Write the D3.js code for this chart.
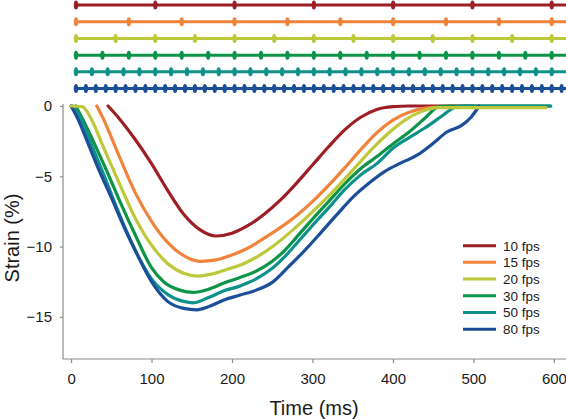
<!DOCTYPE html>
<html>
<head>
<meta charset="utf-8">
<script src="https://cdn.jsdelivr.net/npm/d3@7"></script>
<style>
  html, body { margin: 0; padding: 0; background: #fff; }
  svg { display: block; font-family: "Liberation Sans", Arial, Helvetica, sans-serif; }
</style>
</head>
<body>
<svg id="chart" width="566" height="420"></svg>
<script>
// ---- data ----
const seriesNames = ["10 fps", "15 fps", "20 fps", "30 fps", "50 fps", "80 fps"];
const frameRates = [10, 15, 20, 30, 50, 80];
const colors = ["#9c1f25", "#f0843c", "#bdc83b", "#0c9448", "#0f918b", "#1c4f9a"];

const s10 = [[46,0],[60,-0.9],[80,-2.4],[100,-4.1],[120,-6.0],[140,-7.7],[160,-8.8],[180,-9.25],[200,-9.05],[220,-8.5],[240,-7.7],[260,-6.7],[280,-5.5],[300,-4.2],[320,-2.9],[340,-1.7],[360,-0.8],[380,-0.25],[400,-0.05],[420,0],[500,0]];
const s15 = [[32,0],[40,-0.9],[60,-3.6],[80,-6.2],[100,-8.2],[120,-9.7],[140,-10.65],[160,-11.05],[180,-10.95],[200,-10.6],[220,-10.1],[240,-9.4],[260,-8.65],[280,-7.8],[300,-6.8],[320,-5.65],[340,-4.4],[360,-3.1],[380,-1.9],[400,-1.0],[420,-0.45],[440,-0.15],[460,-0.08],[590,-0.08]];
const s20 = [[0,0],[14,-0.05],[24,-0.8],[40,-2.9],[60,-5.5],[80,-8.0],[100,-9.9],[120,-11.2],[140,-11.9],[158,-12.1],[175,-11.95],[195,-11.6],[215,-11.2],[235,-10.6],[255,-9.8],[275,-8.85],[295,-7.8],[315,-6.7],[335,-5.5],[355,-4.25],[375,-3.0],[395,-1.9],[415,-1.0],[435,-0.4],[455,-0.12],[590,-0.12]];
const s30 = [[6,0],[15,-1.0],[30,-2.8],[45,-4.7],[60,-6.7],[80,-9.2],[100,-11.5],[115,-12.5],[135,-13.1],[152,-13.26],[170,-13.05],[190,-12.6],[210,-12.2],[230,-11.75],[250,-11.05],[265,-10.3],[280,-9.35],[300,-8.05],[320,-6.8],[340,-5.55],[360,-4.45],[380,-3.6],[400,-2.7],[420,-1.85],[440,-0.85],[457,-0.05],[470,0],[596,0]];
const s50 = [[2,0],[10,-0.7],[25,-2.7],[40,-4.8],[60,-7.7],[80,-10.3],[100,-12.3],[120,-13.4],[140,-13.9],[152,-14.0],[170,-13.65],[190,-13.15],[210,-12.8],[230,-12.3],[250,-11.55],[265,-10.75],[280,-9.8],[300,-8.5],[320,-7.25],[340,-5.95],[360,-4.9],[380,-4.1],[400,-3.0],[420,-2.25],[440,-1.55],[460,-0.75],[475,-0.15],[485,0],[596,0]];
const s80 = [[0,0],[10,-1.1],[20,-2.5],[35,-4.6],[50,-6.5],[65,-8.5],[80,-10.3],[100,-12.5],[120,-13.9],[140,-14.4],[156,-14.5],[172,-14.25],[190,-13.8],[210,-13.45],[230,-13.1],[250,-12.55],[270,-11.45],[290,-10.3],[310,-9.04],[330,-7.75],[350,-6.5],[370,-5.5],[390,-4.65],[410,-4.05],[430,-3.5],[450,-2.65],[467,-1.85],[485,-1.4],[497,-0.8],[507,0]];
const seriesData = [s10, s15, s20, s30, s50, s80];
const drawOrder = [0, 1, 3, 4, 5, 2];

const xTicks = [0, 100, 200, 300, 400, 500, 600];
const yTicks = [0, -5, -10, -15];

// ---- drawing ----
const svg = d3.select("#chart");
const axisColor = "#8c8c8c";

const x = d3.scaleLinear().domain([-10, 615]).range([63, 566]);
const y = d3.scaleLinear().domain([-18, 0]).range([359, 106]);

// frame strip
const xs = d3.scaleLinear().domain([0, 618]).range([76, 566]);
const stripY = d3.scaleBand().domain(seriesNames).range([-3.3, 96.9]);
const strip = svg.append("g");
frameRates.forEach((fps, i) => {
  const yy = stripY(seriesNames[i]) + stripY.bandwidth() / 2;
  strip.append("line")
    .attr("x1", xs(0)).attr("x2", xs(618))
    .attr("y1", yy).attr("y2", yy)
    .attr("stroke", colors[i]).attr("stroke-width", 3);
  const frames = d3.range(0, 618.01, 1000 / fps);
  strip.selectAll(null).data(frames).enter().append("ellipse")
    .attr("cx", d => xs(d)).attr("cy", yy)
    .attr("rx", 2.2).attr("ry", 4.5)
    .attr("fill", colors[i]);
});

// axes
const xAxis = d3.axisBottom(x).tickValues(xTicks).tickSize(4).tickSizeOuter(0).tickPadding(10);
const gx = svg.append("g").attr("transform", `translate(0,${y(-18)})`).call(xAxis);
gx.select(".domain").attr("stroke", axisColor).attr("stroke-width", 1.2).attr("d", `M${x(-10)},0H566`);
gx.selectAll(".tick line").attr("stroke", axisColor).attr("stroke-width", 1.2);
gx.selectAll(".tick text").attr("fill", "#1a1a1a").attr("font-size", 15)
  .attr("font-family", "'Liberation Sans', Arial, sans-serif");

const yAxis = d3.axisLeft(y).tickValues(yTicks).tickSize(3).tickSizeOuter(0).tickPadding(8);
const gy = svg.append("g").attr("transform", `translate(${x(-10)},0)`).call(yAxis);
gy.select(".domain").attr("stroke", axisColor).attr("stroke-width", 1.2).attr("d", `M0,${y(0) - 2}V${y(-18)}`);
gy.selectAll(".tick line").attr("stroke", axisColor).attr("stroke-width", 1.2);
gy.selectAll(".tick text").attr("fill", "#1a1a1a").attr("font-size", 15)
  .attr("font-family", "'Liberation Sans', Arial, sans-serif");

// curves
const line = d3.line().x(d => x(d[0])).y(d => y(d[1])).curve(d3.curveMonotoneX);
const gl = svg.append("g");
drawOrder.forEach(i => {
  gl.append("path")
    .attr("d", line(seriesData[i]))
    .attr("fill", "none")
    .attr("stroke", colors[i])
    .attr("stroke-width", 3.2)
    .attr("stroke-linejoin", "round")
    .attr("stroke-linecap", "round");
});

// legend
const legY = d3.scaleBand().domain(seriesNames).range([237.3, 337.5]);
const leg = svg.append("g");
seriesNames.forEach((name, i) => {
  const yy = legY(name) + legY.bandwidth() / 2;
  leg.append("line").attr("x1", 463).attr("x2", 496).attr("y1", yy).attr("y2", yy)
    .attr("stroke", colors[i]).attr("stroke-width", 3);
  leg.append("text").attr("x", 503).attr("y", yy).attr("dy", "0.36em")
    .attr("font-size", 13.5).attr("fill", "#1a1a1a").text(name);
});

// axis titles
svg.append("text").attr("x", 314).attr("y", 415).attr("text-anchor", "middle")
  .attr("font-size", 20).attr("fill", "#1a1a1a").text("Time (ms)");
svg.append("text").attr("transform", "translate(19,238) rotate(-90)").attr("text-anchor", "middle")
  .attr("font-size", 20).attr("fill", "#1a1a1a").text("Strain (%)");
</script>
</body>
</html>
